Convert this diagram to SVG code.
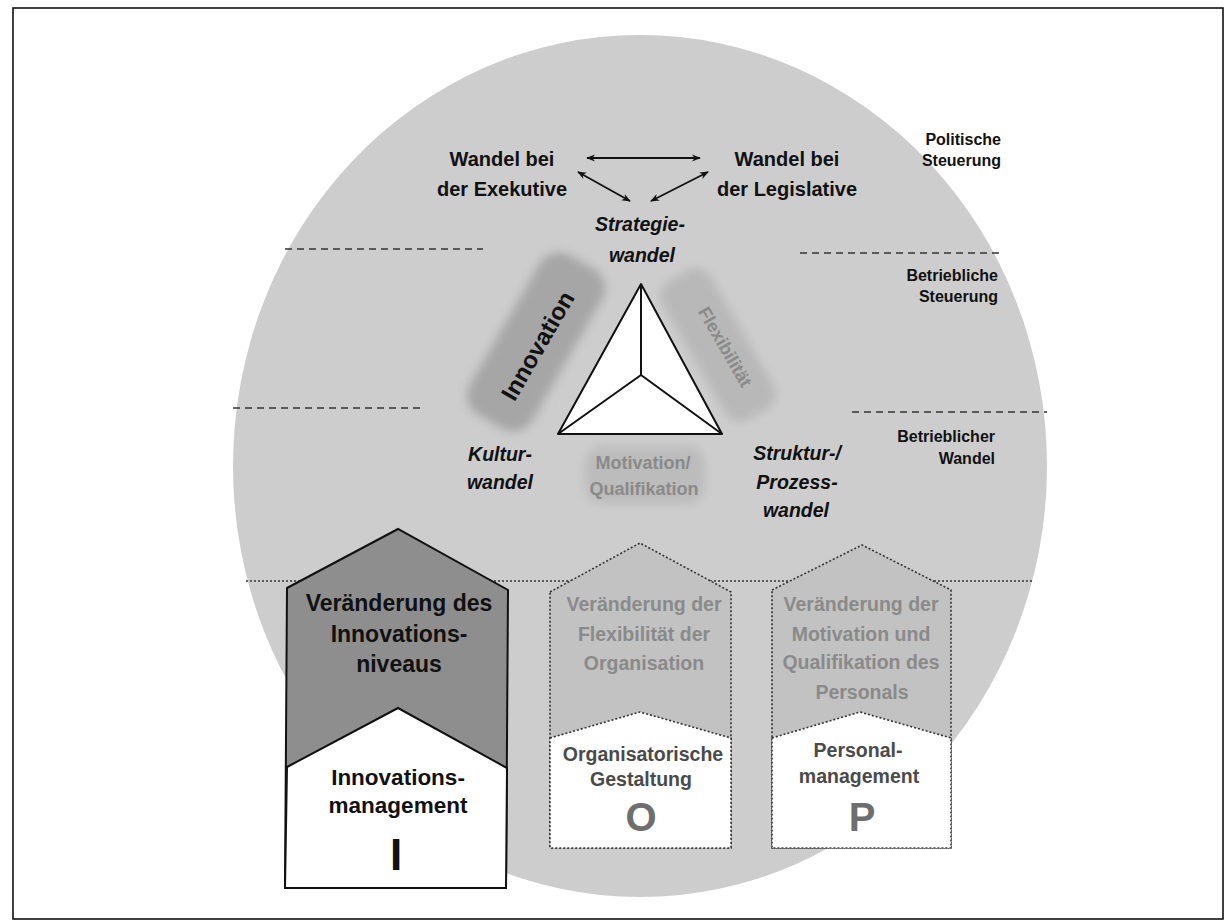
<svg xmlns="http://www.w3.org/2000/svg" width="1226" height="922" viewBox="0 0 1226 922">
<style>
text{font-family:"Liberation Sans",Arial,sans-serif;font-weight:bold}
.lbl{font-size:16px;fill:#111;text-anchor:end}
.top{font-size:20px;fill:#111;text-anchor:middle}
.it{font-size:19.5px;font-style:italic;fill:#111;text-anchor:middle}
.gray{fill:#8a8a8a;text-anchor:middle}
.dash{stroke:#333;stroke-width:1.6;stroke-dasharray:7 5;fill:none}
.dot{stroke:#333;stroke-width:1.6;stroke-dasharray:2 2;}
.ctr{text-anchor:middle}
</style>
<defs>
<marker id="ah" viewBox="0 0 10 10" refX="9" refY="5" markerWidth="9" markerHeight="9" orient="auto-start-reverse" markerUnits="userSpaceOnUse">
<path d="M0,1 L10,5 L0,9 L3,5 Z" fill="#111"/>
</marker>
<filter id="soft" x="-20%" y="-20%" width="140%" height="140%"><feGaussianBlur stdDeviation="5"/></filter>
</defs>
<rect x="13" y="8" width="1210" height="911" fill="#fff" stroke="#111" stroke-width="1.6"/>
<ellipse id="sphere" cx="640" cy="466" rx="407" ry="431" fill="#cdcdcd"/>
<g id="levels">
<line class="dash" x1="285" y1="249" x2="483" y2="249"/>
<line class="dash" x1="800" y1="253" x2="1000" y2="253"/>
<line class="dash" x1="233" y1="408" x2="420" y2="408"/>
<line class="dash" x1="852" y1="412" x2="1047" y2="412"/>
<line class="dot" x1="246" y1="581" x2="1034" y2="581"/>
</g>
<g id="level-labels">
<text class="lbl" x="1001" y="145">Politische</text>
<text class="lbl" x="1001" y="166">Steuerung</text>
<text class="lbl" x="998" y="281">Betriebliche</text>
<text class="lbl" x="998" y="302">Steuerung</text>
<text class="lbl" x="995" y="442">Betrieblicher</text>
<text class="lbl" x="995" y="464">Wandel</text>
</g>
<g id="exekutive">
<text class="top" x="502" y="166">Wandel bei</text>
<text class="top" x="502" y="196">der Exekutive</text>
</g>
<g id="legislative">
<text class="top" x="787" y="166">Wandel bei</text>
<text class="top" x="787" y="196">der Legislative</text>
</g>
<g id="connectors" stroke="#111" stroke-width="1.8" fill="none">
<line x1="587" y1="158" x2="700" y2="158" marker-start="url(#ah)" marker-end="url(#ah)"/>
<line x1="578" y1="172" x2="630" y2="201" marker-start="url(#ah)" marker-end="url(#ah)"/>
<line x1="708" y1="172" x2="651" y2="201" marker-start="url(#ah)" marker-end="url(#ah)"/>
</g>
<g id="strategie">
<text class="it" x="640" y="231">Strategie-</text>
<text class="it" x="642" y="262">wandel</text>
</g>
<g id="innovation">
<rect x="-92" y="-36" width="184" height="72" rx="22" fill="#9a9a9a" opacity="0.75" filter="url(#soft)" transform="translate(536,342) rotate(-60)"/>
<text x="0" y="8" font-size="24" fill="#111" class="ctr" transform="translate(538,346) rotate(-60)">Innovation</text>
</g>
<g id="flexibilitaet">
<rect x="-80" y="-28" width="160" height="56" rx="18" fill="#b4b4b4" opacity="0.8" filter="url(#soft)" transform="translate(718,345) rotate(60)"/>
<text x="0" y="6" font-size="18" class="gray" transform="translate(725,347) rotate(60)">Flexibilität</text>
</g>
<g id="motivation">
<rect x="585" y="446" width="120" height="58" rx="18" fill="#b8b8b8" opacity="0.8" filter="url(#soft)"/>
<text class="gray" x="643" y="469" font-size="18">Motivation/</text>
<text class="gray" x="644" y="495" font-size="18">Qualifikation</text>
</g>
<g id="triangle" stroke="#111" stroke-width="2" stroke-linejoin="round">
<polygon points="641,284 722,434 558,434" fill="#fff"/>
<path d="M641,284 L641,375 M558,434 L641,375 L722,434" fill="none"/>
</g>
<g id="kulturwandel">
<text class="it" x="500" y="461">Kultur-</text>
<text class="it" x="500" y="489">wandel</text>
</g>
<g id="strukturwandel">
<text class="it" x="797" y="460">Struktur-/</text>
<text class="it" x="797" y="489">Prozess-</text>
<text class="it" x="796" y="517">wandel</text>
</g>
<g id="box-I">
<polygon points="287,588 398,529 508,590 506,888 285,888" fill="#8e8e8e" stroke="#111" stroke-width="2"/>
<polygon points="287,767 398,708 507,768 506,888 285,888" fill="#fff" stroke="#111" stroke-width="2"/>
<text class="ctr" x="399" y="611" font-size="23" fill="#111">Veränderung des</text>
<text class="ctr" x="399" y="642" font-size="23" fill="#111">Innovations-</text>
<text class="ctr" x="399" y="672" font-size="23" fill="#111">niveaus</text>
<text class="ctr" x="398" y="785" font-size="22.5" fill="#111">Innovations-</text>
<text class="ctr" x="398" y="813" font-size="22.5" fill="#111">management</text>
<text class="ctr" x="396" y="870" font-size="44" fill="#111">I</text>
</g>
<g id="box-O">
<polygon class="dot" points="550,592 640,543 731,592 731,848 550,848" fill="#c2c2c2"/>
<polygon class="dot" points="550,738 640,712 731,738 731,848 550,848" fill="#fff"/>
<text class="gray" x="644" y="611" font-size="19.5">Veränderung der</text>
<text class="gray" x="644" y="641" font-size="19.5">Flexibilität der</text>
<text class="gray" x="644" y="670" font-size="19.5">Organisation</text>
<text class="ctr" x="643" y="761" font-size="19.5" fill="#4a4a4a">Organisatorische</text>
<text class="ctr" x="641" y="786" font-size="19.5" fill="#4a4a4a">Gestaltung</text>
<text class="ctr" x="641" y="831" font-size="40" fill="#6e6e6e">O</text>
</g>
<g id="box-P">
<polygon class="dot" points="772,590 862,545 951,590 951,848 772,848" fill="#c2c2c2"/>
<polygon class="dot" points="772,738 860,712 951,738 951,848 772,848" fill="#fff"/>
<text class="gray" x="861" y="611" font-size="19.5">Veränderung der</text>
<text class="gray" x="861" y="641" font-size="19.5">Motivation und</text>
<text class="gray" x="861" y="669" font-size="19.5">Qualifikation des</text>
<text class="gray" x="862" y="699" font-size="19.5">Personals</text>
<text class="ctr" x="858" y="757" font-size="19.5" fill="#4a4a4a">Personal-</text>
<text class="ctr" x="859" y="783" font-size="19.5" fill="#4a4a4a">management</text>
<text class="ctr" x="862" y="831" font-size="40" fill="#6e6e6e">P</text>
</g>
</svg>
